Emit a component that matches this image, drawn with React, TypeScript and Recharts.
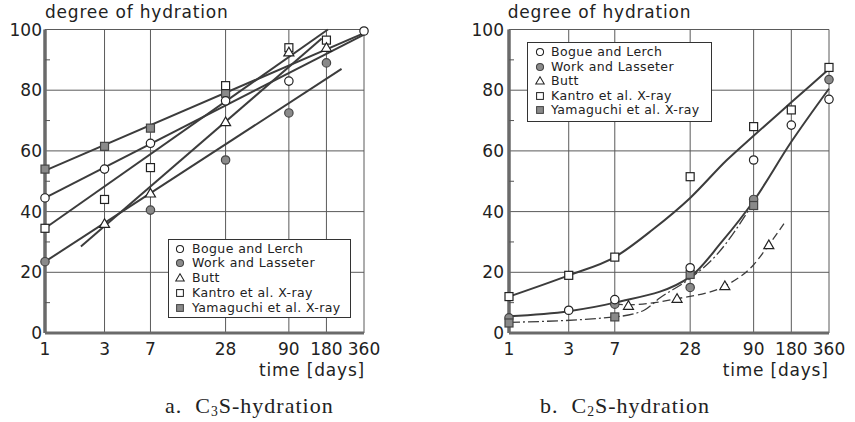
import React from 'react';
import { ComposedChart, Line, Scatter, XAxis, YAxis, CartesianGrid, Legend } from 'recharts';

// ---------- axes ----------
const X_TICKS = [1, 3, 7, 28, 90, 180, 360];
const Y_TICKS = [0, 10, 20, 30, 40, 50, 60, 70, 80, 90, 100];
const Y_GRID = [0, 20, 40, 60, 80, 100];
const LEGEND_LABELS = ['Bogue and Lerch', 'Work and Lasseter', 'Butt', 'Kantro et al. X-ray', 'Yamaguchi et al. X-ray'];

// ---------- panel a: C3S ----------
const aBogue = [{ x: 1, y: 44.5 }, { x: 3, y: 54 }, { x: 7, y: 62.5 }, { x: 28, y: 76.5 }, { x: 90, y: 83 }, { x: 360, y: 99.5 }];
const aWork = [{ x: 1, y: 23.5 }, { x: 7, y: 40.5 }, { x: 28, y: 57 }, { x: 90, y: 72.5 }, { x: 180, y: 89 }];
const aButt = [{ x: 3, y: 36 }, { x: 7, y: 46 }, { x: 28, y: 69.5 }, { x: 90, y: 92.5 }, { x: 180, y: 94 }];
const aKantro = [{ x: 1, y: 34.5 }, { x: 3, y: 44 }, { x: 7, y: 54.5 }, { x: 28, y: 81.5 }, { x: 90, y: 94 }, { x: 180, y: 96.5 }];
const aYama = [{ x: 1, y: 54 }, { x: 3, y: 61.5 }, { x: 7, y: 67.5 }, { x: 28, y: 79 }];

const aFitYama = [{ x: 1, y: 53.5 }, { x: 360, y: 98.8 }];
const aFitBogue = [{ x: 1, y: 44.5 }, { x: 360, y: 98.3 }];
const aFitKantro = [{ x: 1, y: 34.5 }, { x: 185, y: 100 }];
const aFitButt = [{ x: 1.94, y: 28.5 }, { x: 165, y: 97 }];
const aFitWork = [{ x: 1, y: 23.5 }, { x: 238, y: 87 }];

// ---------- panel b: C2S ----------
const bBogue = [{ x: 3, y: 7.5 }, { x: 7, y: 11 }, { x: 28, y: 21.5 }, { x: 90, y: 57 }, { x: 180, y: 68.5 }, { x: 360, y: 77 }];
const bWork = [{ x: 1, y: 5 }, { x: 7, y: 9.5 }, { x: 28, y: 15 }, { x: 90, y: 44 }, { x: 360, y: 83.5 }];
const bButt = [{ x: 9, y: 9 }, { x: 22, y: 11.3 }, { x: 53, y: 15.5 }, { x: 119, y: 29 }];
const bKantro = [{ x: 1, y: 12 }, { x: 3, y: 19 }, { x: 7, y: 25 }, { x: 28, y: 51.5 }, { x: 90, y: 68 }, { x: 180, y: 73.5 }, { x: 360, y: 87.5 }];
const bYama = [{ x: 1, y: 3.3 }, { x: 7, y: 5.3 }, { x: 28, y: 19.3 }, { x: 90, y: 42 }];

const bCurveKantro = [{ x: 1, y: 12 }, { x: 3, y: 19 }, { x: 7, y: 25 }, { x: 14, y: 34 }, { x: 28, y: 44.5 }, { x: 55, y: 57 }, { x: 90, y: 65 }, { x: 180, y: 76 }, { x: 360, y: 87 }];
const bCurveBW = [{ x: 1, y: 5.5 }, { x: 3, y: 7.2 }, { x: 7, y: 10 }, { x: 28, y: 18.5 }, { x: 50, y: 30 }, { x: 90, y: 43.5 }, { x: 180, y: 63 }, { x: 360, y: 80.5 }];
const bCurveYama = [{ x: 1, y: 3.5 }, { x: 7, y: 5.3 }, { x: 12, y: 7.5 }, { x: 16, y: 11.5 }, { x: 28, y: 18 }, { x: 45, y: 25.5 }, { x: 90, y: 43 }];
const bCurveButt = [{ x: 7, y: 9.5 }, { x: 9, y: 9.3 }, { x: 22, y: 11.3 }, { x: 53, y: 15.5 }, { x: 90, y: 22.5 }, { x: 119, y: 29 }, { x: 157, y: 36 }];

// ---------- styling ----------
const INK = '#222';
const LINE = '#3c3c3c';
const GRAY = '#8a8a8a';
const SANS = 'DejaVu Sans';

type MP = { cx?: number; cy?: number };
const OpenCircle = ({ cx = 0, cy = 0 }: MP) => <circle cx={cx} cy={cy} r={4.2} fill="#fff" stroke={INK} strokeWidth={1.2} />;
const GrayCircle = ({ cx = 0, cy = 0 }: MP) => <circle cx={cx} cy={cy} r={4.2} fill={GRAY} stroke="#444" strokeWidth={1.2} />;
const Triangle = ({ cx = 0, cy = 0 }: MP) => (
  <polygon points={`${cx},${cy - 5} ${cx - 5},${cy + 3.6} ${cx + 5},${cy + 3.6}`} fill="#fff" stroke={INK} strokeWidth={1.2} />
);
const OpenSquare = ({ cx = 0, cy = 0 }: MP) => <rect x={cx - 4} y={cy - 4} width={8} height={8} fill="#fff" stroke={INK} strokeWidth={1.2} />;
const GraySquare = ({ cx = 0, cy = 0 }: MP) => <rect x={cx - 4} y={cy - 4} width={8} height={8} fill={GRAY} stroke="#444" strokeWidth={1.2} />;
const MARKERS = [OpenCircle, GrayCircle, Triangle, OpenSquare, GraySquare];

const makeYTick = (gap: number) => (props: any) => {
  const { x, y, payload } = props;
  const v = payload.value;
  const axisX = x + gap;
  if (v % 20 !== 0) {
    return <line x1={axisX} x2={axisX + 5} y1={y} y2={y} stroke="#555" strokeWidth={1} />;
  }
  return (
    <text x={x} y={y} dy="0.36em" textAnchor="end" fontSize={17} fontFamily={SANS} fill={INK}>
      {v}
    </text>
  );
};

const LegendBox = ({ width, height, rowTop, rowGap, markerX, textX }: any) => (
  <div
    style={{
      position: 'absolute', left: 0, top: 0, width, height, boxSizing: 'border-box',
      border: '1px solid #333', background: '#fff',
    }}
  >
    {LEGEND_LABELS.map((lab, i) => {
      const M = MARKERS[i];
      return (
        <div key={lab} style={{ position: 'absolute', left: 0, top: rowTop + i * rowGap - 8, height: 16, width: '100%' }}>
          <svg style={{ position: 'absolute', left: markerX - 7, top: 1 }} width={14} height={14}>
            <g transform="translate(7,7) scale(0.85) translate(-7,-7)">
              <M cx={7} cy={7} />
            </g>
          </svg>
          <span
            style={{
              position: 'absolute', left: textX, top: 0, lineHeight: '16px', fontSize: 12.5,
              fontFamily: SANS, letterSpacing: 0.4, whiteSpace: 'nowrap', color: INK,
            }}
          >
            {lab}
          </span>
        </div>
      );
    })}
  </div>
);

const labelStyle: React.CSSProperties = {
  position: 'absolute', fontFamily: SANS, fontSize: 17, lineHeight: '17px', letterSpacing: 0.8,
  whiteSpace: 'nowrap', color: INK,
};
const captionStyle: React.CSSProperties = {
  position: 'absolute', fontFamily: 'Liberation Serif', fontSize: 22, lineHeight: '22px', letterSpacing: 1,
  whiteSpace: 'nowrap', color: INK,
};
const subStyle: React.CSSProperties = { fontSize: '0.62em', position: 'relative', top: '0.25em' };

const Panel = ({ width, yWidth, right, gap, children, legend }: any) => (
  <ComposedChart width={width} height={422} margin={{ top: 29.5, right, bottom: 59, left: 0 }}>
    <CartesianGrid stroke="#5a5a5a" strokeWidth={1} horizontalValues={Y_GRID} />
    <XAxis
      type="number" dataKey="x" scale="log" domain={[1, 360]} ticks={X_TICKS} interval={0}
      height={30} tickSize={0} tickMargin={10} tickLine={false}
      axisLine={{ stroke: '#6a6a6a', strokeWidth: 3 }}
      tick={{ fontSize: 17, fontFamily: SANS, fill: INK }}
    />
    <YAxis
      type="number" dataKey="y" domain={[0, 100]} ticks={Y_TICKS} interval={0} width={yWidth}
      tickSize={0} tickMargin={gap} tickLine={false}
      axisLine={{ stroke: '#6a6a6a', strokeWidth: 3.5 }}
      tick={makeYTick(gap)}
    />
    {legend}
    {children}
  </ComposedChart>
);

const lineProps = { dataKey: 'y', stroke: LINE, strokeWidth: 2, dot: false, activeDot: false, isAnimationActive: false, legendType: 'none' as const };

export default function App() {
  return (
    <div style={{ position: 'absolute', left: 0, top: 0, width: 855, height: 422, background: '#fff', overflow: 'hidden' }}>
      {/* panel a */}
      <div style={{ position: 'absolute', left: 0, top: 0 }}>
        <Panel
          width={430} yWidth={45} right={66} gap={3}
          legend={
            <Legend
              layout="horizontal" verticalAlign="middle" align="center"
              wrapperStyle={{ left: 168, top: 239, width: 183, height: 79 }}
              content={() => <LegendBox width={183} height={79} rowTop={8.7} rowGap={14.7} markerX={11.3} textX={23} />}
            />
          }
        >
          <Line {...lineProps} data={aFitYama} type="linear" />
          <Line {...lineProps} data={aFitBogue} type="linear" />
          <Line {...lineProps} data={aFitKantro} type="linear" />
          <Line {...lineProps} data={aFitButt} type="linear" />
          <Line {...lineProps} data={aFitWork} type="linear" />
          <Scatter data={aWork} shape={GrayCircle} isAnimationActive={false} legendType="none" />
          <Scatter data={aYama} shape={GraySquare} isAnimationActive={false} legendType="none" />
          <Scatter data={aKantro} shape={OpenSquare} isAnimationActive={false} legendType="none" />
          <Scatter data={aButt} shape={Triangle} isAnimationActive={false} legendType="none" />
          <Scatter data={aBogue} shape={OpenCircle} isAnimationActive={false} legendType="none" />
        </Panel>
      </div>
      {/* panel b */}
      <div style={{ position: 'absolute', left: 430, top: 0 }}>
        <Panel
          width={425} yWidth={79} right={26} gap={5}
          legend={
            <Legend
              layout="horizontal" verticalAlign="middle" align="center"
              wrapperStyle={{ left: 97, top: 41.7, width: 185, height: 80 }}
              content={() => <LegendBox width={185} height={80} rowTop={9.3} rowGap={14.6} markerX={12} textX={23} />}
            />
          }
        >
          <Line {...lineProps} data={bCurveKantro} type="monotone" />
          <Line {...lineProps} data={bCurveBW} type="monotone" />
          <Line {...lineProps} data={bCurveYama} type="monotone" strokeWidth={1.3} strokeDasharray="11 3 2 3" />
          <Line {...lineProps} data={bCurveButt} type="monotone" strokeWidth={1.3} strokeDasharray="8 4" />
          <Scatter data={bWork} shape={GrayCircle} isAnimationActive={false} legendType="none" />
          <Scatter data={bYama} shape={GraySquare} isAnimationActive={false} legendType="none" />
          <Scatter data={bKantro} shape={OpenSquare} isAnimationActive={false} legendType="none" />
          <Scatter data={bButt} shape={Triangle} isAnimationActive={false} legendType="none" />
          <Scatter data={bBogue} shape={OpenCircle} isAnimationActive={false} legendType="none" />
        </Panel>
      </div>

      {/* axis titles */}
      <div style={{ ...labelStyle, left: 45, top: 4 }}>degree of hydration</div>
      <div style={{ ...labelStyle, left: 507.7, top: 4 }}>degree of hydration</div>
      <div style={{ ...labelStyle, left: 259, top: 361.6 }}>time [days]</div>
      <div style={{ ...labelStyle, left: 722.7, top: 361.6 }}>time [days]</div>

      {/* captions */}
      <div style={{ ...captionStyle, left: 165, top: 395 }}>
        a.{'\u00a0 '}C<span style={subStyle}>3</span>S-hydration
      </div>
      <div style={{ ...captionStyle, left: 540, top: 395 }}>
        b.{'\u00a0 '}C<span style={subStyle}>2</span>S-hydration
      </div>
    </div>
  );
}
